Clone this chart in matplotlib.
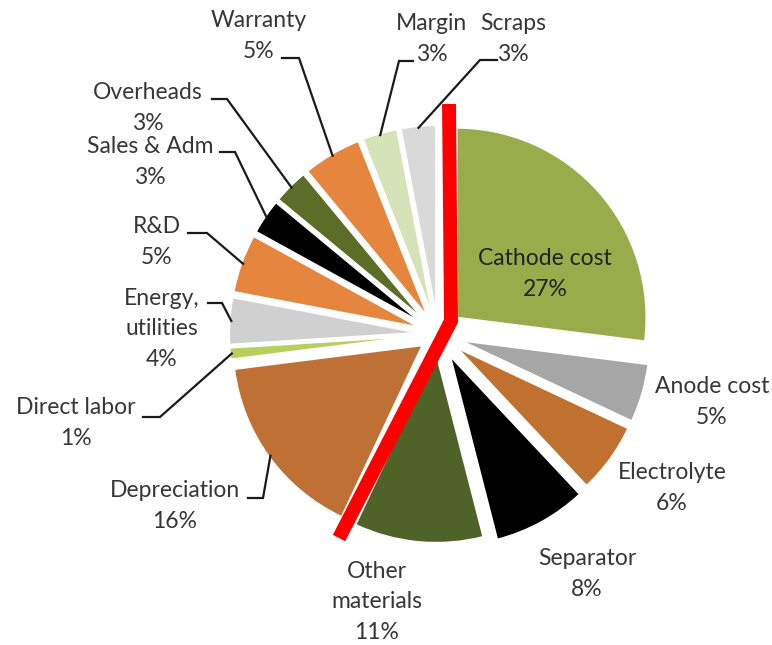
import matplotlib
matplotlib.use("Agg")
import matplotlib.pyplot as plt
import numpy as np

# Data (clockwise from 12 o'clock)
categories = ["Cathode cost", "Anode cost", "Electrolyte", "Separator", "Other\nmaterials",
              "Depreciation", "Direct labor", "Energy,\nutilities", "R&D", "Sales & Adm",
              "Overheads", "Warranty", "Margin", "Scraps"]
shares = [27, 5, 6, 8, 11, 16, 1, 4, 5, 3, 3, 5, 3, 3]
colors = ["#9aab4c", "#a6a6a6", "#c0712f", "#000000", "#4f6228",
          "#bf7034", "#b6cf5e", "#d0d0d0", "#e5853e", "#000000",
          "#5b6d27", "#e5853e", "#d6e3b9", "#d9d9d9"]
explode = [0.13, 0.12, 0.12, 0.13, 0.1, 0.1, 0.1, 0.1, 0.1, 0.1, 0.1, 0.1, 0.1, 0.1]

plt.rcParams['font.family'] = ['Lato', 'DejaVu Sans']

# pixel layout helpers (pie center and radius in image pixels)
W, H = 772, 645
CX, CY, R = 438, 334, 190

def px(x, y):
    return ((x - CX) / R, (CY - y) / R)

fig = plt.figure(figsize=(W / 100, H / 100), dpi=100)
ax = fig.add_axes([0, 0, 1, 1])
wedges, _ = ax.pie(shares, colors=colors, explode=explode, startangle=90, counterclock=False,
                   radius=1.0, wedgeprops=dict(edgecolor='white', linewidth=1.5))
ax.set_xlim(-CX / R, (W - CX) / R)
ax.set_ylim(-(H - CY) / R, CY / R)
ax.set_aspect('equal')
ax.axis('off')

txt = '#363636'
fs = 16.5

# label text centers (pixels) and optional leader: (horizontal start x, end x, y)
layout = {
    "Cathode cost": ((545, 274), None),
    "Anode cost": ((712, 402), None),
    "Electrolyte": ((672, 488), None),
    "Separator": ((587, 574), None),
    "Other\nmaterials": ((377, 602), None),
    "Depreciation": ((175, 506), (248, 263, 498)),
    "Direct labor": ((76, 423), (143, 160, 417)),
    "Energy,\nutilities": ((162, 329), (208, 222, 303)),
    "R&D": ((157, 242), (188, 207, 233)),
    "Sales & Adm": ((150, 162), (220, 235, 152)),
    "Overheads": ((148, 108), (212, 227, 99)),
    "Warranty": ((259, 36), (282, 299, 58)),
    "Margin": ((432, 39), (413, 399, 61)),
    "Scraps": ((513, 39), (497, 480, 60)),
}

for w, cat, val in zip(wedges, categories, shares):
    (tx, ty), lead = layout[cat]
    label = f"{cat}\n{val}%"
    x, y = px(tx, ty)
    col = '#222222' if cat == "Cathode cost" else txt
    ax.text(x, y, label, ha='center', va='center', fontsize=fs, color=col,
            linespacing=1.55, zorder=6)
    if lead is not None:
        x0, x1, yl = lead
        mid = np.deg2rad((w.theta1 + w.theta2) / 2)
        ex = w.center[0] + w.r * 0.99 * np.cos(mid)
        ey = w.center[1] + w.r * 0.99 * np.sin(mid)
        a = px(x0, yl)
        b = px(x1, yl)
        ax.plot([a[0], b[0], ex], [a[1], b[1], ey], color='#1a1a1a', lw=1.6,
                solid_joinstyle='miter', zorder=5)

# red divider between materials and other costs
red = [px(449, 104), px(451, 321), px(339, 538)]
ax.plot([p[0] for p in red], [p[1] for p in red], color='#ff0000', lw=10,
        solid_capstyle='butt', solid_joinstyle='miter', zorder=7)

fig.savefig("out.png", dpi=100, facecolor='white')
